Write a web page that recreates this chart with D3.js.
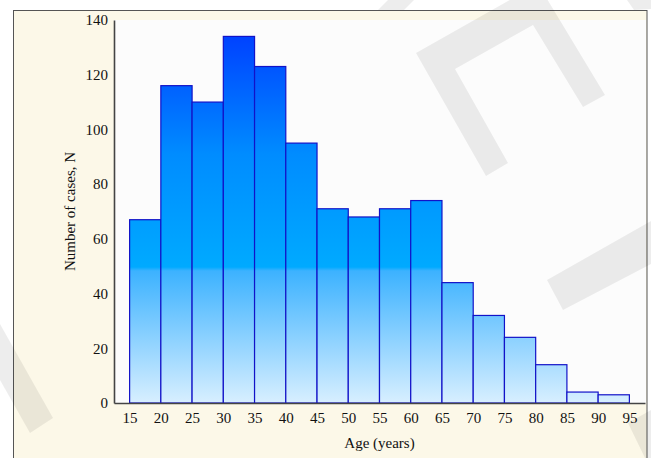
<!DOCTYPE html>
<html>
<head>
<meta charset="utf-8">
<script src="https://cdn.jsdelivr.net/npm/d3@7"></script>
<style>
  html, body { margin: 0; padding: 0; background: #ffffff; }
  svg { display: block; }
  .tick text { font-family: "Liberation Serif", "Times New Roman", serif; font-size: 15px; fill: #111; }
</style>
</head>
<body>
<svg id="chart" width="651" height="458"></svg>
<script>
// ---- data ----
const binStarts = [15, 20, 25, 30, 35, 40, 45, 50, 55, 60, 65, 70, 75, 80, 85, 90];
const binWidth = 5;
const counts = [67, 116, 110, 134, 123, 95, 71, 68, 71, 74, 44, 32, 24, 14, 4, 3];
const xTicks = [15, 20, 25, 30, 35, 40, 45, 50, 55, 60, 65, 70, 75, 80, 85, 90, 95];
const yTicks = [0, 20, 40, 60, 80, 100, 120, 140];
const xLabel = "Age (years)";
const yLabel = "Number of cases, N";

// ---- layout ----
const W = 651, H = 458;
const plot = { left: 114, right: 646, top: 20, bottom: 403 };

const svg = d3.select("#chart");

const x = d3.scaleLinear().domain([12.5, 97.5]).range([plot.left, 645]);
const y = d3.scaleLinear().domain([0, 140]).range([plot.bottom, plot.top]);

// gradient (absolute, shared by all bars)
const defs = svg.append("defs");
const grad = defs.append("linearGradient")
  .attr("id", "barGrad")
  .attr("gradientUnits", "userSpaceOnUse")
  .attr("x1", 0).attr("x2", 0)
  .attr("y1", plot.top).attr("y2", plot.bottom);
[
  [0, "#0036ff"],
  [0.05, "#0044ff"],
  [0.35, "#008cff"],
  [0.645, "#00aaff"],
  [0.655, "#3cb2ff"],
  [1, "#d8efff"]
].forEach(([o, c]) => grad.append("stop").attr("offset", o).attr("stop-color", c));

// outer frame
svg.append("rect")
  .attr("x", 13.5).attr("y", 10.5)
  .attr("width", 633.5).attr("height", H)
  .attr("fill", "#fcf8e8")
  .attr("stroke", "#555").attr("stroke-width", 1);

// plot background
svg.append("rect")
  .attr("x", plot.left).attr("y", plot.top)
  .attr("width", plot.right - plot.left).attr("height", plot.bottom - plot.top)
  .attr("fill", "#fcfcfc");

// watermark decoration
const marks = [
  [[486,176],[416,53],[538,-16],[605,95],[583,107],[533,25],[455,69],[508,163]],
  [[0,324],[53,418],[30,433],[0,380]],
  [[547,280],[651,221],[651,264],[563,310]],
  [[651,410],[628,423],[645,458],[651,458]],
  [[388,0],[414,0],[404,10],[378,10]],
  [[627,0],[651,0],[651,9],[634,10]]
];
svg.append("g").selectAll("polygon").data(marks).join("polygon")
  .attr("points", d => d.map(p => p.join(",")).join(" "))
  .attr("fill", "rgba(0,0,0,0.07)");

// bars
svg.append("g").selectAll("rect").data(binStarts).join("rect")
  .attr("x", (d) => x(d))
  .attr("width", (d) => x(d + binWidth) - x(d))
  .attr("y", (d, i) => y(counts[i]))
  .attr("height", (d, i) => y(0) - y(counts[i]))
  .attr("fill", "url(#barGrad)")
  .attr("stroke", "#1212c8")
  .attr("stroke-width", 1.2);

// axes
const xAxis = svg.append("g")
  .attr("transform", `translate(0,${plot.bottom})`)
  .call(d3.axisBottom(x).tickValues(xTicks).tickSize(0).tickPadding(9).tickFormat(d3.format("d")));
xAxis.select(".domain").attr("stroke", "#444").attr("stroke-width", 1.6);

const yAxis = svg.append("g")
  .attr("transform", `translate(${plot.left},0)`)
  .call(d3.axisLeft(y).tickValues(yTicks).tickSize(0).tickPadding(6).tickFormat(d3.format("d")));
yAxis.select(".domain").attr("stroke", "#444").attr("stroke-width", 1.6);

// axis labels
svg.append("text")
  .attr("x", (plot.left + 645) / 2).attr("y", 448)
  .attr("text-anchor", "middle")
  .style("font-family", '"Liberation Serif", "Times New Roman", serif')
  .style("font-size", "15px").attr("fill", "#111")
  .text(xLabel);

svg.append("text")
  .attr("transform", `translate(75,${(plot.top + plot.bottom) / 2}) rotate(-90)`)
  .attr("text-anchor", "middle")
  .style("font-family", '"Liberation Serif", "Times New Roman", serif')
  .style("font-size", "15px").attr("fill", "#111")
  .text(yLabel);
</script>
</body>
</html>
